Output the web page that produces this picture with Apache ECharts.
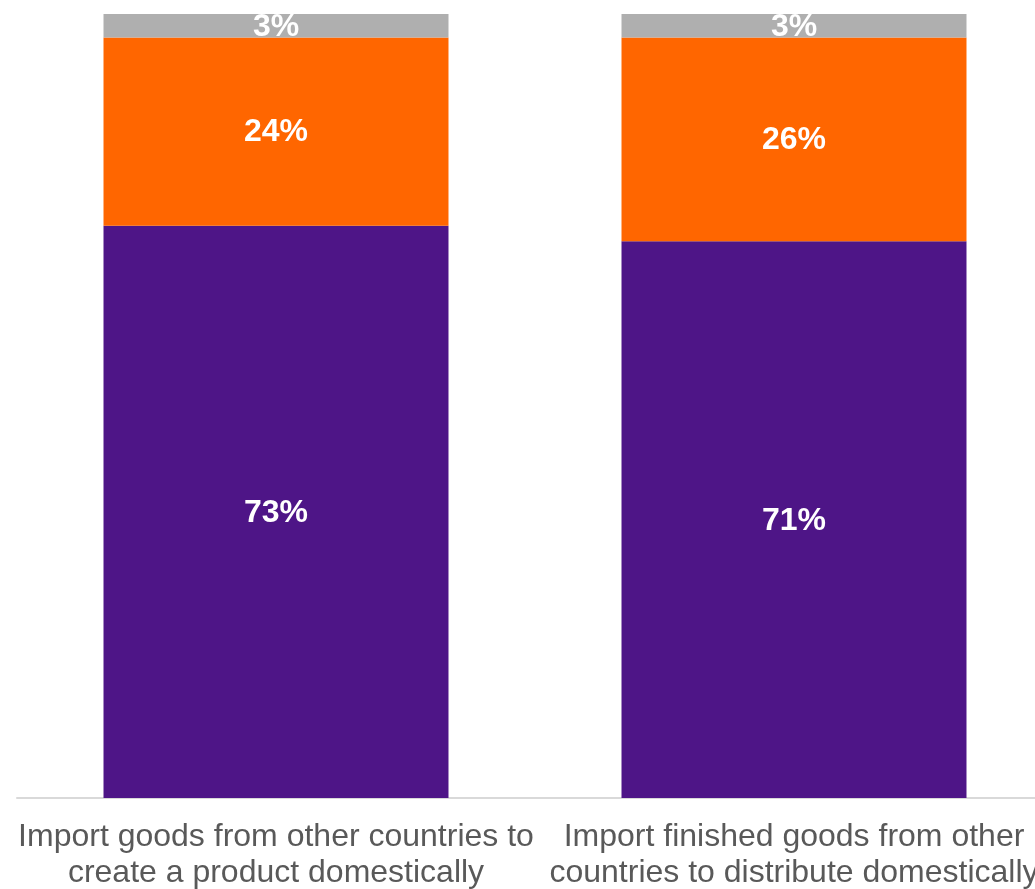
<!DOCTYPE html>
<html>
<head>
<meta charset="utf-8">
<script src="https://cdn.jsdelivr.net/npm/echarts@6/dist/echarts.min.js"></script>
<style>
  html, body { margin: 0; padding: 0; background: #fff; }
  #main { width: 1035px; height: 889px; }
</style>
</head>
<body>
<div id="main"></div>
<script>
var categories = [
  'Import goods from other countries to\ncreate a product domestically',
  'Import finished goods from other\ncountries to distribute domestically'
];
var purpleValues = [73, 71];
var orangeValues = [24, 26];
var grayValues = [3, 3];

var myChart = echarts.init(document.getElementById('main'));
var labelStyle = {
  show: true,
  position: 'inside',
  offset: [0, 1],
  color: '#fff',
  fontFamily: 'Liberation Sans, Arial, sans-serif',
  fontWeight: 'bold',
  fontSize: 32,
  formatter: '{c}%'
};
var option = {
  animation: false,
  grid: { left: 17, right: -18, top: 14, bottom: 91, outerBoundsMode: 'none', containLabel: false },
  xAxis: {
    type: 'category',
    data: categories,
    axisLine: { lineStyle: { color: '#d9d9d9', width: 2 } },
    axisTick: { show: false },
    axisLabel: {
      color: '#595959',
      fontFamily: 'Liberation Sans, Arial, sans-serif',
      fontSize: 32,
      lineHeight: 36,
      margin: 21,
      interval: 0
    }
  },
  yAxis: {
    type: 'value',
    min: 0,
    max: 100,
    show: false,
    splitLine: { show: false }
  },
  series: [
    {
      name: 'purple',
      type: 'bar',
      stack: 'total',
      barWidth: '66.6%',
      itemStyle: { color: '#4e1587' },
      label: labelStyle,
      data: purpleValues
    },
    {
      name: 'orange',
      type: 'bar',
      stack: 'total',
      itemStyle: { color: '#ff6600' },
      label: labelStyle,
      data: orangeValues
    },
    {
      name: 'gray',
      type: 'bar',
      stack: 'total',
      itemStyle: { color: '#afafaf' },
      label: labelStyle,
      data: grayValues
    }
  ]
};
myChart.setOption(option);
</script>
</body>
</html>
